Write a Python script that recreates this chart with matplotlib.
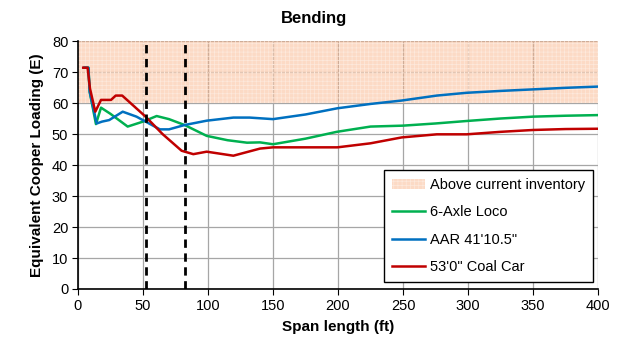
import matplotlib
matplotlib.use("Agg")
import matplotlib.pyplot as plt
import matplotlib.patches as mpatches
from matplotlib.lines import Line2D

plt.rcParams['font.family'] = ['Liberation Sans', 'DejaVu Sans']
plt.rcParams['hatch.linewidth'] = 0.5

# Data
loco_x = [5, 8, 9, 13.8, 17.7, 25, 38.2, 50, 60.5, 70, 82, 99, 115, 130, 140, 150, 175, 199, 225, 250, 275, 299, 325, 350, 375, 400]
loco_y = [71.4, 71.4, 63.6, 53.2, 58.5, 56.5, 52.4, 54.0, 55.8, 54.8, 52.9, 49.4, 48.0, 47.2, 47.3, 46.7, 48.5, 50.7, 52.4, 52.7, 53.4, 54.2, 55.0, 55.6, 55.9, 56.1]

aar_x = [5, 8, 9, 14.4, 18.5, 24, 34.4, 45, 52, 63, 70, 82, 99, 119.5, 132, 150, 175, 199.5, 225, 249, 276, 299, 325, 350, 375, 400]
aar_y = [71.4, 71.4, 63.6, 53.4, 54.0, 54.5, 57.2, 55.6, 54.0, 51.5, 51.5, 52.9, 54.3, 55.3, 55.3, 54.8, 56.3, 58.3, 59.7, 60.8, 62.4, 63.3, 63.9, 64.4, 64.9, 65.3]

coal_x = [4, 7.4, 9.2, 13.3, 17.7, 25.4, 29, 34, 52, 65, 79.7, 88.7, 99, 119.5, 140, 150, 175, 199.5, 225, 249, 276, 299, 325, 350, 375, 400]
coal_y = [71.4, 71.4, 64.7, 57.2, 61.0, 61.0, 62.4, 62.4, 55.6, 50.0, 44.6, 43.5, 44.3, 43.0, 45.3, 45.7, 45.7, 45.7, 47.0, 48.9, 49.9, 49.9, 50.7, 51.3, 51.6, 51.7]

limit_spans = [52.5, 82]
band_low, band_high = 60, 80

fig = plt.figure(figsize=(6.21, 3.39), dpi=100)
ax = fig.add_axes([0.1256, 0.1475, 0.8374, 0.7315])

ax.set_xlim(0, 400)
ax.set_ylim(0, 80)
ax.set_xticks(range(0, 401, 50))
ax.set_yticks(range(0, 81, 10))
ax.grid(True, color='#a6a6a6', lw=0.9, zorder=0)
ax.set_axisbelow(True)

band_face = (0.98, 0.70, 0.53, 0.48)
band_hatch = '#fde9dc'
ax.axhspan(band_low, band_high, facecolor=band_face, edgecolor=band_hatch, hatch='++++', lw=0, zorder=1)

c_loco, c_aar, c_coal = '#00b050', '#0070c0', '#c00000'
ax.plot(loco_x, loco_y, color=c_loco, lw=1.8, zorder=3)
ax.plot(aar_x, aar_y, color=c_aar, lw=1.8, zorder=3)
ax.plot(coal_x, coal_y, color=c_coal, lw=1.8, zorder=4)

for s in limit_spans:
    ax.axvline(s, color='black', lw=2, ls=(0, (3, 2)), zorder=5)

for sp in ['top', 'right']:
    ax.spines[sp].set_visible(False)
for sp in ['left', 'bottom']:
    ax.spines[sp].set_color('black')
    ax.spines[sp].set_linewidth(1.2)

ax.tick_params(axis='both', labelsize=10.5, direction='out', length=4, color='black', pad=3)

ax.set_xlabel('Span length (ft)', fontsize=11, fontweight='bold', labelpad=5)
ax.set_ylabel('Equivalent Cooper Loading (E)', fontsize=11, fontweight='bold', labelpad=6)
fig.text(0.505, 0.945, 'Bending', ha='center', va='center', fontsize=12, fontweight='bold')

handles = [
    mpatches.Patch(facecolor=band_face, edgecolor=band_hatch, hatch='++++', lw=0, label='Above current inventory'),
    Line2D([0], [0], color=c_loco, lw=1.8, label='6-Axle Loco'),
    Line2D([0], [0], color=c_aar, lw=1.8, label="AAR 41'10.5\""),
    Line2D([0], [0], color=c_coal, lw=1.8, label="53'0\" Coal Car"),
]
leg = ax.legend(handles=handles, loc='lower right', bbox_to_anchor=(0.99, 0.028), borderaxespad=0,
                fontsize=10.5, frameon=True, fancybox=False, edgecolor='black', framealpha=1,
                handlelength=2.3, handletextpad=0.3, borderpad=0.55, labelspacing=0.92)
leg.get_frame().set_linewidth(1.0)
leg.set_zorder(10)

fig.savefig('out.png', dpi=100)
